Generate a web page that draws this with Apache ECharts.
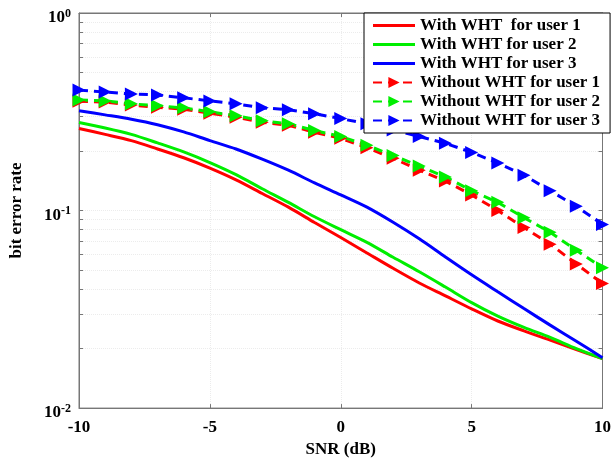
<!DOCTYPE html>
<html>
<head>
<meta charset="utf-8">
<script src="https://cdn.jsdelivr.net/npm/echarts@6/dist/echarts.min.js"></script>
<style>
  html, body { margin: 0; padding: 0; background: #fff; }
  #chart { width: 614px; height: 463px; }
</style>
</head>
<body>
<div id="chart"></div>
<script>
// SNR points (dB)
var snr = [-10, -9, -8, -7, -6, -5, -4, -3, -2, -1, 0, 1, 2, 3, 4, 5, 6, 7, 8, 9, 10];

// with WHT (solid)
var withUser1 = [0.260, 0.243, 0.226, 0.205, 0.185, 0.164, 0.143, 0.122, 0.104, 0.087, 0.073,
                 0.061, 0.051, 0.043, 0.037, 0.0318, 0.0276, 0.0246, 0.0221, 0.0198, 0.0178];
var withUser2 = [0.279, 0.262, 0.243, 0.220, 0.198, 0.175, 0.152, 0.129, 0.110, 0.093, 0.080,
                 0.069, 0.058, 0.049, 0.041, 0.0342, 0.0292, 0.0256, 0.0228, 0.0200, 0.0178];
var withUser3 = [0.320, 0.305, 0.290, 0.272, 0.250, 0.226, 0.205, 0.182, 0.160, 0.138, 0.120,
                 0.104, 0.0872, 0.0719, 0.0582, 0.0473, 0.0388, 0.0319, 0.0263, 0.0218, 0.0180];

// without WHT (dashed + triangles)
var withoutUser1 = [0.358, 0.354, 0.342, 0.333, 0.326, 0.311, 0.297, 0.280, 0.270, 0.249, 0.232,
                    0.208, 0.184, 0.160, 0.141, 0.120, 0.100, 0.082, 0.0676, 0.0537, 0.0427];
var withoutUser2 = [0.363, 0.359, 0.347, 0.339, 0.331, 0.316, 0.302, 0.285, 0.275, 0.254, 0.237,
                    0.214, 0.190, 0.168, 0.148, 0.126, 0.110, 0.092, 0.0776, 0.063, 0.0513];
var withoutUser3 = [0.407, 0.398, 0.389, 0.385, 0.372, 0.359, 0.347, 0.331, 0.324, 0.309, 0.292,
                    0.275, 0.256, 0.237, 0.219, 0.197, 0.174, 0.151, 0.126, 0.105, 0.085];

var seriesNames = ['With WHT  for user 1', 'With WHT for user 2', 'With WHT for user 3',
                   'Without WHT for user 1', 'Without WHT for user 2', 'Without WHT for user 3'];
var colors = ['#ff0000', '#00ee00', '#0000ff'];

// log axis tick positions (major + minor)
var yTicks = [0.01, 0.02, 0.03, 0.04, 0.05, 0.06, 0.07, 0.08, 0.09,
              0.1, 0.2, 0.3, 0.4, 0.5, 0.6, 0.7, 0.8, 0.9, 1];

var FONT = '"Liberation Serif", "Times New Roman", serif';
var LINE_ICON = 'path://M0,0L42,0L42,3L0,3Z';

function pairs(ys) {
    var out = [];
    for (var i = 0; i < snr.length; i++) {
        out.push([snr[i], ys[i]]);
    }
    return out;
}

function solid(name, ys, color) {
    return {
        name: name, type: 'line', data: pairs(ys),
        smooth: 0.3, showSymbol: false, symbol: 'none',
        lineStyle: { color: color, width: 3 },
        itemStyle: { color: color }
    };
}

function dashed(name, ys, color) {
    return {
        name: name, type: 'line', data: pairs(ys),
        symbol: 'triangle', symbolRotate: -90, symbolSize: 13,
        lineStyle: { color: color, width: 3, type: [9, 6] },
        itemStyle: { color: color }
    };
}

var legendData = [];
for (var k = 0; k < seriesNames.length; k++) {
    legendData.push(k < 3 ? { name: seriesNames[k], icon: LINE_ICON } : { name: seriesNames[k] });
}

var chart = echarts.init(document.getElementById('chart'));

var option = {
    animation: false,
    backgroundColor: '#fff',
    textStyle: { fontFamily: FONT },
    grid: {
        left: 77, right: 9, top: 13, bottom: 50,
        show: true, borderColor: '#777', borderWidth: 1
    },
    legend: {
        orient: 'vertical',
        left: 364, top: 13,
        padding: [3, 10, 3, 8],
        itemGap: 0,
        itemWidth: 42, itemHeight: 14,
        backgroundColor: '#fff',
        borderColor: '#000', borderWidth: 1,
        data: legendData,
        textStyle: { fontFamily: FONT, fontWeight: 'bold', fontSize: 17, color: '#000', lineHeight: 19 }
    },
    xAxis: [{
        type: 'value', min: -10, max: 10, interval: 5,
        name: 'SNR (dB)', nameLocation: 'middle', nameGap: 29,
        nameTextStyle: { fontFamily: FONT, fontWeight: 'bold', fontSize: 17, color: '#000' },
        axisLine: { onZero: false, lineStyle: { color: '#777' } },
        axisTick: { inside: true, length: 4, lineStyle: { color: '#777' } },
        axisLabel: { fontFamily: FONT, fontWeight: 'bold', fontSize: 17, color: '#000', margin: 11 },
        splitLine: { show: true, lineStyle: { color: '#ececec', type: 'dotted' } }
    }, {
        type: 'value', min: -10, max: 10, interval: 5, position: 'top',
        axisLine: { onZero: false, lineStyle: { color: '#777' } },
        axisTick: { inside: true, length: 4, lineStyle: { color: '#777' } },
        axisLabel: { show: false },
        splitLine: { show: false }
    }],
    yAxis: [{
        type: 'log', min: 0.01, max: 1, logBase: 10,
        name: 'bit error rate', nameLocation: 'middle', nameGap: 54,
        nameTextStyle: { fontFamily: FONT, fontWeight: 'bold', fontSize: 17, color: '#000' },
        axisLine: { onZero: false, lineStyle: { color: '#777' } },
        axisTick: { inside: true, length: 4, customValues: yTicks, lineStyle: { color: '#777' } },
        axisLabel: {
            margin: 8,
            padding: [10, 0, 0, 0],
            formatter: function (v) {
                var e = Math.round(Math.log(v) / Math.LN10);
                return '{b|10}{s|' + e + '}';
            },
            rich: {
                b: { fontFamily: FONT, fontWeight: 'bold', fontSize: 17, color: '#000' },
                s: { fontFamily: FONT, fontWeight: 'bold', fontSize: 12, color: '#000', padding: [0, 0, 9, 0] }
            }
        },
        splitLine: { show: true, lineStyle: { color: '#ececec', type: 'dotted' } }
    }, {
        type: 'log', min: 0.01, max: 1, logBase: 10, position: 'right',
        axisLine: { onZero: false, lineStyle: { color: '#777' } },
        axisTick: { inside: true, length: 4, customValues: yTicks, lineStyle: { color: '#777' } },
        axisLabel: { show: false },
        splitLine: { show: false }
    }],
    series: [
        solid(seriesNames[0], withUser1, colors[0]),
        solid(seriesNames[1], withUser2, colors[1]),
        solid(seriesNames[2], withUser3, colors[2]),
        dashed(seriesNames[3], withoutUser1, colors[0]),
        dashed(seriesNames[4], withoutUser2, colors[1]),
        dashed(seriesNames[5], withoutUser3, colors[2])
    ]
};

chart.setOption(option);
</script>
</body>
</html>
